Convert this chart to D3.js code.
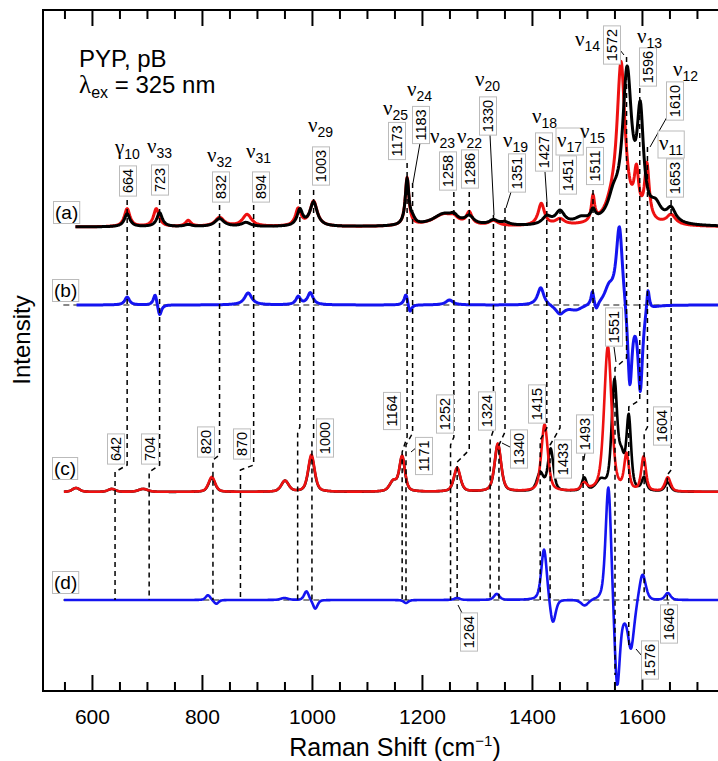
<!DOCTYPE html>
<html>
<head>
<meta charset="utf-8">
<script src="https://cdn.jsdelivr.net/npm/d3@7"></script>
<style>
  body { margin: 0; background: #fff; }
  svg { display: block; }
  text { font-family: "Liberation Sans", Arial, Helvetica, sans-serif; fill: #000; }
</style>
</head>
<body>
<div id="chart"></div>
<script>
// ---- data ----
// peak lists: [Raman shift (cm-1), height (a.u.), half width (cm-1)]
const aRedPeaks = [
  [664, 18, 6], [717, 18, 6], [775, 6, 6], [832, 9, 10], [882, 12, 10], [975, 17, 6], [1003, 25, 8],
  [1173, 48, 4], [1240, 12, 25], [1258, 4, 8], [1286, 12, 6], [1330, 5, 10], [1417, 22, 7], [1451, 6, 10],
  [1511, 25, 3.5], [1545, 12, 15], [1562, 158, 9], [1590, 43, 5], [1609, 55, 5], [1653, 10, 10]
];
const aBlackPeaks = [
  [664, 13, 6], [723, 14, 6], [775, 2, 8], [832, 8, 10], [880, 4, 10], [978, 16, 6], [1003, 24, 8],
  [1173, 46, 4], [1183, 5, 5], [1240, 12, 25], [1258, 5, 8], [1286, 8, 10], [1330, 5, 10], [1351, 3, 10],
  [1427, 8, 10], [1451, 13, 10], [1490, 6, 15], [1511, 10, 5], [1548, 20, 12], [1573, 148, 10],
  [1597, 100, 7], [1625, 15, 12], [1653, 14, 10]
];
const bBluePeaks = [
  [664, 8, 5], [715, 12, 4], [723, -12, 4], [884, 12, 8], [975, 8, 5], [997, 12, 6],
  [1171, 12, 4], [1178, -9, 4], [1250, 5, 8], [1416, 18, 7], [1451, -9, 10], [1480, -5, 15],
  [1510, 14, 3], [1517, -8, 4], [1540, 15, 10], [1559, 82, 7], [1578, -85, 5], [1597, -85, 5], [1611, 24, 3]
];
const cRedPeaks = [
  [571, 4, 8], [636, 3, 8], [693, 3, 10], [818, 15, 7], [951, 11, 8], [999, 37, 7], [1148, 10, 8],
  [1164, 35, 6], [1264, 24, 7], [1338, 48, 7], [1423, 67, 7], [1495, 7, 6], [1538, 145, 8],
  [1572, 35, 5], [1603, 34, 5], [1647, 14, 6]
];
const cBlackPeaks = [
  [571, 4, 8], [636, 3, 8], [693, 3, 10], [818, 14, 7], [951, 11, 8], [999, 35, 7], [1148, 10, 8],
  [1164, 34, 6], [1264, 23, 7], [1338, 47, 7], [1415, 18, 7], [1434, 42, 6], [1495, 13, 5],
  [1525, 10, 10], [1550, 108, 6], [1563, 28, 6], [1576, 72, 5], [1604, 13, 5], [1647, 9, 6]
];
const dBluePeaks = [
  [811, 5, 5], [826, -4, 5], [950, 2, 8], [990, 9, 5], [1006, -9, 5], [1171, -3, 5], [1264, 2, 6],
  [1336, 6, 6], [1422, 52, 6], [1438, -25, 6], [1496, -6, 8], [1539, 119, 6], [1555, -90, 6],
  [1567, -8, 6], [1580, -48, 7], [1601, 28, 7], [1647, 7, 6]
];
// vertical offsets of the four traces
const offsetA = 464, offsetB = 386, offsetC = 199, offsetD = 91;

// band assignments: experimental (a) vs calculated (c)
const expBands  = [664, 723, 832, 894, 978, 1003, 1173, 1183, 1258, 1286, 1330, 1351, 1427, 1451, 1511, 1572, 1596, 1610, 1653];
const calcBands = [642, 704, 820, 870, 974, 1000, 1164, 1171, 1252, 1264, 1324, 1340, 1415, 1433, 1493, 1551, 1576, 1604, 1646];
const modeSym = ["γ", "ν", "ν", "ν", "", "ν", "ν", "ν", "ν", "ν", "ν", "ν", "ν", "ν", "ν", "ν", "ν", "ν", "ν"];
const modeSub = ["10", "33", "32", "31", "", "29", "25", "24", "23", "22", "20", "19", "18", "17", "15", "14", "13", "12", "11"];
const labelledExp = [664, 723, 832, 894, 1003, 1173, 1183, 1258, 1286, 1330, 1351, 1427, 1451, 1511, 1572, 1596, 1610, 1653];
const labelledCalc = [642, 704, 820, 870, 1000, 1164, 1171, 1252, 1324, 1340, 1415, 1433, 1493, 1551, 1604, 1264, 1576, 1646];

const majorTicks = [600, 800, 1000, 1200, 1400, 1600];
const minorTicks = d3.range(550, 1751, 50).filter(v => !majorTicks.includes(v));

// ---- layout (pixels) ----
const W = 718, H = 761;
const svg = d3.select("#chart").append("svg").attr("width", W).attr("height", H);
const x = d3.scaleLinear().domain([511, 1750]).range([43, 724.45]);
const y = d3.scaleLinear().domain([0, 681]).range([691, 10]);

// dashed connector lines: exp top, exp end, calc start, calc end
const linkY = [
  [200, 465, 472, 600], [200, 465, 472, 600], [205, 455, 460, 600], [205, 465, 470, 600],
  [190, 427, 433, 600], [190, 440, 442, 600], [163, 437, 452, 600], [183, 433, 445, 600],
  [192, 437, 445, 600], [192, 450, 462, 600], [215, 430, 440, 600], [208, 432, 445, 600],
  [202, 428, 440, 600], [200, 428, 445, 600], [190, 415, 425, 600], [57, 358, 368, 675],
  [88, 400, 407, 648], [147, 427, 433, 600], [200, 470, 475, 600]
];
// rotated number boxes, centre
const expLabelPos = [
  [128, 181], [160, 180], [221, 187], [261, 187], [321, 166], [397, 141], [421, 125], [448, 171],
  [470, 169], [488, 116], [517, 173], [544, 152], [568, 175], [595, 166], [612, 45], [648, 67],
  [675, 101], [675, 178]
];
const calcLabelPos = [
  [116, 449], [150, 449], [206, 442], [242, 444], [325, 438], [392, 411], [424, 456], [445, 414],
  [487, 411], [519, 449], [537, 404], [563, 459], [585, 434], [614, 327], [662, 426], [469, 632],
  [650, 660], [669, 624]
];
// greek mode labels, left/baseline
const modePos = [
  [115, 154], [147, 153], [207, 162], [246, 158], null, [308, 132], [383, 115], [407, 96], [430, 143],
  [457, 143], [475, 86], [503, 147], [532, 123], [557, 147], [580, 138], [575, 46], [637, 43], [673, 76], [659, 150]
];
const boxedModes = ["17", "11"];
const leaders = [
  [420, 143, 413, 183], [490, 135, 494, 215], [511, 192, 506, 208], [545, 172, 547, 202], [620, 50, 624, 55],
  [667, 117, 650, 147], [417, 447, 411, 452], [510, 447, 502, 443], [614, 347, 616, 362], [458, 605, 463, 615],
  [636, 649, 642, 656], [668, 602, 668, 607], [585, 453, 584, 460], [236, 456, 241, 455]
];

// ---- spectra ----
const lorentz = (v, c, w) => { const t = (v - c) / w; return 1 / (1 + t * t); };
const voigt = (v, c, w) => { const t = (v - c) / w; return 0.5 / (1 + t * t) + 0.5 * Math.exp(-Math.LN2 * t * t); };
const spectrum = (peaks, base, shape, from) =>
  d3.range(from, 1751, 1).map(v => [v, base + d3.sum(peaks, p => p[1] * shape(v, p[0], p[2]))]);

const series = [
  { data: spectrum(aRedPeaks, offsetA, lorentz, 570), color: "#ee1111", w: 3 },
  { data: spectrum(aBlackPeaks, offsetA, lorentz, 570), color: "#000", w: 3 },
  { data: spectrum(bBluePeaks, offsetB, lorentz, 572), color: "#1414f0", w: 3 },
  { data: spectrum(cBlackPeaks, offsetC, voigt, 549), color: "#000", w: 2.6 },
  { data: spectrum(cRedPeaks, offsetC, voigt, 549), color: "#ee1111", w: 2.6 },
  { data: spectrum(dBluePeaks, offsetD, voigt, 549), color: "#1414f0", w: 2.6 }
];

svg.append("clipPath").attr("id", "plot").append("rect")
  .attr("x", 43).attr("y", 10).attr("width", 700).attr("height", 681);

const plot = svg.append("g").attr("clip-path", "url(#plot)");

// zero lines of the difference traces
plot.selectAll("line.zero").data([offsetB, offsetD]).join("line")
  .attr("class", "zero")
  .attr("x1", x(548)).attr("x2", 740)
  .attr("y1", d => y(d)).attr("y2", d => y(d))
  .attr("stroke", "#888").attr("stroke-width", 2).attr("stroke-dasharray", "6,4");

const line = d3.line().x(d => x(d[0])).y(d => y(d[1]));
plot.selectAll("path.spec").data(series).join("path")
  .attr("class", "spec")
  .attr("d", d => line(d.data))
  .attr("fill", "none")
  .attr("stroke", d => d.color)
  .attr("stroke-width", d => d.w)
  .attr("stroke-linejoin", "round");

// connector dashes
plot.selectAll("path.link").data(expBands).join("path")
  .attr("class", "link")
  .attr("d", (d, i) => {
    const [y0, y1, y2, y3] = linkY[i];
    return `M${x(d)},${y0}V${y1}L${x(calcBands[i])},${y2}V${y3}`;
  })
  .attr("fill", "none").attr("stroke", "#000").attr("stroke-width", 1.5)
  .attr("stroke-dasharray", "5,4");

plot.selectAll("line.leader").data(leaders).join("line")
  .attr("class", "leader")
  .attr("x1", d => d[0]).attr("y1", d => d[1]).attr("x2", d => d[2]).attr("y2", d => d[3])
  .attr("stroke", "#000").attr("stroke-width", 1);

// ---- axes ----
const axisB = svg.append("g").attr("transform", "translate(0,691)");
axisB.call(d3.axisBottom(x).tickValues(majorTicks).tickFormat(d3.format("d"))
  .tickSizeInner(-16).tickSizeOuter(0).tickPadding(18));
axisB.append("g").call(d3.axisBottom(x).tickValues(minorTicks).tickSizeInner(-9).tickSizeOuter(0).tickFormat(""));
const axisT = svg.append("g").attr("transform", "translate(0,10)");
axisT.call(d3.axisTop(x).tickValues(majorTicks).tickSizeInner(-16).tickSizeOuter(0).tickFormat(""));
axisT.append("g").call(d3.axisTop(x).tickValues(minorTicks).tickSizeInner(-9).tickSizeOuter(0).tickFormat(""));
svg.selectAll(".domain").remove();
svg.selectAll(".tick line").attr("stroke", "#000").attr("stroke-width", 2);
axisB.selectAll(".tick text").style("font-size", "21px").style("font-family", "Liberation Sans, Arial, sans-serif");

svg.append("rect").attr("x", 43).attr("y", 10).attr("width", 700).attr("height", 681)
  .attr("fill", "none").attr("stroke", "#000").attr("stroke-width", 2);

svg.append("text").attr("transform", "translate(30,340) rotate(-90)")
  .attr("text-anchor", "middle").style("font-size", "24px").text("Intensity");

const xt = svg.append("text").attr("x", 395).attr("y", 756).attr("text-anchor", "middle").style("font-size", "25px");
xt.append("tspan").text("Raman Shift (cm");
xt.append("tspan").attr("dy", -10).style("font-size", "15px").text("−1");
xt.append("tspan").attr("dy", 10).text(")");

svg.append("text").attr("x", 79).attr("y", 67).style("font-size", "24px").text("PYP, pB");
const lt = svg.append("text").attr("x", 79).attr("y", 93).style("font-size", "24px");
lt.append("tspan").style("font-family", "Liberation Serif, serif").style("font-size", "25px").text("λ");
lt.append("tspan").attr("dy", 5).style("font-size", "16px").text("ex");
lt.append("tspan").attr("dy", -5).text(" = 325 nm");

// ---- labels ----
const ann = svg.append("g");

function boxed(g, pad) {
  const b = g.node().getBBox();
  g.insert("rect", ":first-child")
    .attr("x", b.x - pad).attr("y", b.y - pad + 1)
    .attr("width", b.width + 2 * pad).attr("height", b.height + 2 * pad - 2)
    .attr("fill", "#fff").attr("stroke", "#bbb").attr("stroke-width", 1);
}

function numberBox(v, pos) {
  const g = ann.append("g");
  const t = g.append("text")
    .attr("transform", `translate(${pos[0]},${pos[1]}) rotate(-90)`)
    .attr("text-anchor", "middle").attr("dy", "0.36em")
    .style("font-size", "14.5px").text(v);
  const len = t.node().getComputedTextLength();
  g.insert("rect", "text")
    .attr("x", pos[0] - 8.5).attr("y", pos[1] - len / 2 - 3)
    .attr("width", 17).attr("height", len + 6)
    .attr("fill", "#fff").attr("stroke", "#bbb").attr("stroke-width", 1);
}

labelledExp.forEach((v, i) => numberBox(v, expLabelPos[i]));
labelledCalc.forEach((v, i) => numberBox(v, calcLabelPos[i]));

modeSym.forEach((s, i) => {
  if (!s) return;
  const g = ann.append("g");
  const t = g.append("text").attr("x", modePos[i][0]).attr("y", modePos[i][1]);
  t.append("tspan").style("font-family", "Liberation Serif, serif").style("font-size", "21px").text(s);
  t.append("tspan").attr("dy", 5).style("font-size", "14px").text(modeSub[i]);
  if (boxedModes.includes(modeSub[i])) boxed(g, 1);
});

const panelNames = ["(a)", "(b)", "(c)", "(d)"];
const panelPos = [[55, 219], [54, 297], [54, 475], [54, 589]];
panelNames.forEach((p, i) => {
  const g = ann.append("g");
  g.append("text").attr("x", panelPos[i][0]).attr("y", panelPos[i][1]).style("font-size", "19px").text(p);
  boxed(g, 1.5);
});
</script>
</body>
</html>
